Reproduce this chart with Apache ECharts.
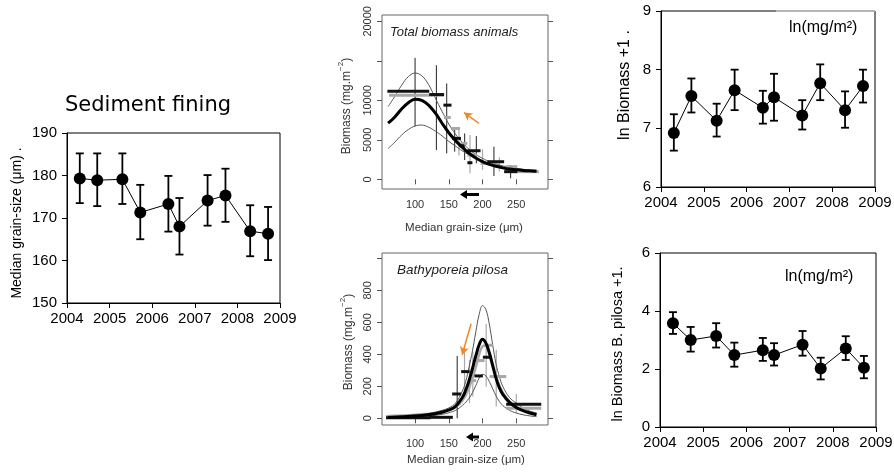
<!DOCTYPE html>
<html><head><meta charset="utf-8">
<script src="https://cdn.jsdelivr.net/npm/echarts@6/dist/echarts.min.js"></script>
<style>html,body{margin:0;padding:0;background:#fff}#c{width:894px;height:472px}</style>
</head><body><div id="c"></div>
<script>
// ---------- data ----------
const sampleDates = [2004.3, 2004.71, 2005.3, 2005.72, 2006.38, 2006.64, 2007.3, 2007.72, 2008.3, 2008.72];

const grainMedian = [179.3, 178.9, 179.1, 171.3, 173.3, 168.0, 174.1, 175.3, 166.9, 166.3];
const grainHigh   = [185.2, 185.2, 185.2, 177.8, 179.9, 174.7, 180.1, 181.6, 173.0, 172.6];
const grainLow    = [173.5, 172.8, 173.3, 165.0, 166.8, 161.4, 168.2, 169.1, 161.0, 160.1];

const lnBiomass     = [6.92, 7.55, 7.13, 7.65, 7.35, 7.53, 7.22, 7.77, 7.31, 7.72];
const lnBiomassHigh = [7.24, 7.85, 7.42, 8.00, 7.64, 7.93, 7.48, 8.09, 7.63, 8.00];
const lnBiomassLow  = [6.62, 7.27, 6.86, 7.31, 7.08, 7.13, 6.98, 7.48, 7.01, 7.44];

const lnPilosa     = [3.58, 3.00, 3.14, 2.48, 2.65, 2.48, 2.84, 2.02, 2.71, 2.04];
const lnPilosaHigh = [3.96, 3.45, 3.58, 2.91, 3.07, 2.89, 3.31, 2.39, 3.13, 2.45];
const lnPilosaLow  = [3.21, 2.60, 2.74, 2.08, 2.28, 2.12, 2.46, 1.64, 2.31, 1.68];

// Total biomass vs grain size: curves [grain, biomass]
const totalMean  = [[60,7100],[70,7900],[80,8900],[90,9700],[100,10150],[110,10000],[120,9400],[130,8400],[140,7100],[150,5900],[160,4900],[170,4050],[180,3300],[190,2700],[200,2250],[210,1900],[220,1650],[230,1450],[240,1300],[250,1200],[260,1120],[270,1070],[280,1030]];
const totalUpper = [[60,9200],[70,10500],[80,11900],[90,13000],[100,13450],[110,13100],[120,12000],[130,10300],[140,8600],[150,7000],[160,5700],[170,4650],[180,3800],[190,3150],[200,2650],[210,2250],[220,1950],[230,1700],[240,1500],[250,1380],[260,1270],[270,1200],[280,1150]];
const totalLower = [[60,3900],[70,4700],[80,5600],[90,6300],[100,6750],[110,6870],[120,6600],[130,6100],[140,5500],[150,4800],[160,4200],[170,3600],[180,3100],[190,2650],[200,2300],[210,1950],[220,1700],[230,1500],[240,1350],[250,1250],[260,1170],[270,1100],[280,1050]];
// binned means [from, to, biomass]
const totalBinsBlack = [[59,121,11150],[121,143,10730],[142,154,9390],[155,168,5180],[166,172.5,4250],[177.5,197,3620],[177.5,185,2100],[207,232,2230],[232,251.5,970]];
const totalBinsGray  = [[61.5,118,10650],[118,143,10650],[143,153,7830],[154,166.5,6440],[167.5,177.5,4550],[177.5,192,3070],[197,222,2020],[234,251.5,1600],[249,283.5,970]];
// error ranges [grain, high, low]
const totalErrBlack = [[100,15370,6700],[131.6,14440,3700],[146.9,12130,3280],[158.7,6230,3500],[173.5,5810,2440],[190.8,5470,2020],[216.9,4130,420],[241.6,1810,130]];
const totalErrGray  = [[165,6500,3000],[181.4,5600,760],[200,3800,1200],[225,2800,1000]];

// Bathyporeia pilosa vs grain size
const pilosaUpper = [[60,10],[80,15],[100,21],[120,30],[140,50],[150,65],[160,95],[170,170],[175,230],[180,320],[185,420],[190,540],[195,650],[200,705],[205,680],[210,590],[215,460],[220,340],[225,260],[230,200],[240,130],[250,95],[260,65],[270,45],[280,32]];
const pilosaMean  = [[60,5],[80,10],[100,15],[120,22],[140,38],[150,52],[160,75],[170,130],[175,175],[180,235],[185,310],[190,390],[195,460],[200,495],[205,470],[210,410],[215,330],[220,250],[225,190],[230,150],[240,100],[250,68],[260,48],[270,33],[280,22]];
const pilosaLower = [[60,2],[80,5],[100,8],[120,14],[140,25],[150,35],[160,50],[170,80],[180,125],[185,160],[190,205],[195,250],[200,275],[205,265],[210,230],[215,185],[220,140],[225,105],[230,80],[240,50],[250,33],[260,22],[270,15],[280,10]];
const pilosaGrayFit = [[60,14],[100,22],[140,40],[160,70],[170,110],[180,190],[190,320],[195,400],[200,450],[205,455],[210,410],[215,340],[220,260],[230,160],[240,105],[250,72],[260,50],[280,28]];
const pilosaBinsBlack = [[57,123,4],[121,156,6],[155,168.3,152],[168.3,180.7,292],[188,200.5,265],[200.5,212.9,382],[235,287,88]];
const pilosaBinsGray  = [[57,121,11],[178.2,190.6,236],[190.6,203,361],[203,215.3,457],[210.4,235.1,261],[235,287,63]];
const pilosaErrBlack = [[162.4,390,0]];
const pilosaErrGray  = [[173.3,453,136],[180.7,366,94],[185.6,418,136],[205.4,590,198],[220.3,428,73],[250,152,31]];

// axis ticks
const totalTicks = [0,5000,10000,15000,20000];
const totalTickLabels = [0,5000,10000,20000];
const pilosaTicks = [0,200,400,600,800,1000];
const pilosaTickLabels = [0,200,400,600,800];
const grainTicks = [100,150,200,250];

// ---------- helpers ----------
const SANS = "'Liberation Sans', Arial, sans-serif";
function errRender(color, width, cap) {
  return function (params, api) {
    const x = api.value(0);
    const a = api.coord([x, api.value(1)]);
    const b = api.coord([x, api.value(2)]);
    const st = {stroke: color, lineWidth: width};
    const ch = [{type: 'line', shape: {x1: a[0], y1: a[1], x2: b[0], y2: b[1]}, style: st}];
    if (cap) {
      ch.push({type: 'line', shape: {x1: a[0]-cap, y1: a[1], x2: a[0]+cap, y2: a[1]}, style: st});
      ch.push({type: 'line', shape: {x1: b[0]-cap, y1: b[1], x2: b[0]+cap, y2: b[1]}, style: st});
    }
    return {type: 'group', children: ch};
  };
}
function binRender(color, width) {
  return function (params, api) {
    const y = api.value(2);
    const a = api.coord([api.value(0), y]);
    const b = api.coord([api.value(1), y]);
    return {type: 'line', shape: {x1: a[0], y1: a[1], x2: b[0], y2: b[1]}, style: {stroke: color, lineWidth: width}};
  };
}
function errSeries(xi, yi, lows, highs) {
  return {type: 'custom', xAxisIndex: xi, yAxisIndex: yi, renderItem: errRender('#000', 1.8, 4),
    encode: {x: 0, y: [1, 2]}, data: sampleDates.map((d, i) => [d, lows[i], highs[i]]), z: 3};
}
function ptSeries(xi, yi, vals) {
  return {type: 'line', xAxisIndex: xi, yAxisIndex: yi, data: sampleDates.map((d, i) => [d, vals[i]]),
    symbol: 'circle', symbolSize: 12, showSymbol: true, itemStyle: {color: '#000'},
    lineStyle: {color: '#000', width: 1}, z: 4};
}
function curve(xi, yi, data, color, width, z) {
  return {type: 'line', xAxisIndex: xi, yAxisIndex: yi, data: data, smooth: 0.4, showSymbol: false,
    symbol: 'none', lineStyle: {color: color, width: width}, z: z || 2};
}
function bins(xi, yi, data, color, width, z) {
  return {type: 'custom', xAxisIndex: xi, yAxisIndex: yi, renderItem: binRender(color, width),
    encode: {x: [0, 1], y: 2}, data: data, z: z || 3};
}
function errs(xi, yi, data, color, width, z) {
  return {type: 'custom', xAxisIndex: xi, yAxisIndex: yi, renderItem: errRender(color, width, 0),
    encode: {x: 0, y: [1, 2]}, data: data, z: z || 2};
}
const excelX = (gi) => ({gridIndex: gi, type: 'value', min: 2004, max: 2009, interval: 1,
  axisLine: {show: true, lineStyle: {color: '#000', width: 1}},
  axisTick: {show: true, length: 5, lineStyle: {color: '#000'}},
  axisLabel: {color: '#000', fontSize: 15, fontFamily: SANS, margin: 8, showMinLabel: true, showMaxLabel: true, formatter: v => String(v)},
  splitLine: {show: false}});
const excelY = (gi, mn, mx, iv) => ({gridIndex: gi, type: 'value', min: mn, max: mx, interval: iv,
  axisLine: {show: true, lineStyle: {color: '#000', width: 1}},
  axisTick: {show: true, length: 5, lineStyle: {color: '#000'}},
  axisLabel: {color: '#000', fontSize: 15, fontFamily: SANS, margin: 10, showMinLabel: true, showMaxLabel: true, formatter: v => String(v)},
  splitLine: {show: false}});
const rX = (gi, margin) => ({gridIndex: gi, type: 'value', min: 51, max: 297,
  axisLine: {show: false},
  axisTick: {show: true, length: 5, customValues: grainTicks, lineStyle: {color: '#555'}},
  axisLabel: {color: '#333', fontSize: 11, fontFamily: SANS, margin: margin, customValues: grainTicks, formatter: v => String(v)},
  splitLine: {show: false}});
const rY = (gi, mn, mx, ticks, labels) => ({gridIndex: gi, type: 'value', min: mn, max: mx,
  axisLine: {show: false},
  axisTick: {show: true, length: 5, customValues: ticks, lineStyle: {color: '#555'}},
  axisLabel: {color: '#333', fontSize: 11, fontFamily: SANS, margin: 9, rotate: 90, customValues: labels, formatter: v => String(v)},
  splitLine: {show: false}});
const rYRight = (gi, mn, mx, ticks) => ({gridIndex: gi, type: 'value', position: 'right', min: mn, max: mx,
  axisLine: {show: false},
  axisTick: {show: true, length: 5, customValues: ticks, lineStyle: {color: '#555'}},
  axisLabel: {show: false}, splitLine: {show: false}});

const orangeArrow = (from, to) => ({silent: true, symbol: ['none', 'arrow'], symbolSize: [7, 8],
  lineStyle: {color: '#f0882a', width: 1.5, type: 'solid'}, label: {show: false},
  emphasis: {disabled: true}, data: [[{coord: from}, {coord: to}]]});

const gridBase = {show: true, borderColor: '#000', borderWidth: 1, backgroundColor: 'transparent', containLabel: false, outerBoundsMode: 'none'};

const option = {
  animation: false,
  textStyle: {fontFamily: SANS},
  grid: [
    Object.assign({}, gridBase, {left: 67, top: 133, width: 213, height: 170}),
    Object.assign({}, gridBase, {left: 382, top: 15, width: 166, height: 174, borderColor: '#666'}),
    Object.assign({}, gridBase, {left: 382, top: 253, width: 166, height: 172, borderColor: '#666'}),
    Object.assign({}, gridBase, {left: 661, top: 11, width: 214, height: 176}),
    Object.assign({}, gridBase, {left: 660, top: 253, width: 216, height: 174})
  ],
  xAxis: [excelX(0), rX(1, 10), rX(2, 13), excelX(3), excelX(4)],
  yAxis: [
    excelY(0, 150, 190, 10),
    rY(1, -1225, 20800, totalTicks, totalTickLabels),
    rYRight(1, -1225, 20800, totalTicks),
    rY(2, -42, 1034, pilosaTicks, pilosaTickLabels),
    rYRight(2, -42, 1034, pilosaTicks),
    excelY(3, 6, 9, 1),
    excelY(4, 0, 6, 2)
  ],
  series: [
    errSeries(0, 0, grainLow, grainHigh),
    ptSeries(0, 0, grainMedian),
    // total biomass
    errs(1, 1, totalErrGray, '#aaa', 1.2, 1),
    errs(1, 1, totalErrBlack, '#222', 1, 2),
    curve(1, 1, totalUpper, '#555', 1, 2),
    curve(1, 1, totalLower, '#555', 1, 2),
    bins(1, 1, totalBinsGray, '#a8a8a8', 3, 3),
    bins(1, 1, totalBinsBlack, '#111', 3, 4),
    Object.assign(curve(1, 1, totalMean, '#000', 3, 5), {markLine: orangeArrow([194.7, 7070], [172.5, 8460])}),
    // pilosa
    errs(2, 3, pilosaErrGray, '#aaa', 1.2, 1),
    errs(2, 3, pilosaErrBlack, '#222', 1, 2),
    curve(2, 3, pilosaGrayFit, '#aaa', 2.5, 2),
    curve(2, 3, pilosaUpper, '#555', 1, 2),
    curve(2, 3, pilosaLower, '#555', 1, 2),
    bins(2, 3, pilosaBinsGray, '#a8a8a8', 3, 3),
    bins(2, 3, pilosaBinsBlack, '#111', 3, 4),
    Object.assign(curve(2, 3, pilosaMean, '#000', 3, 5), {markLine: orangeArrow([183, 591], [169.8, 397])}),
    // right panels
    errSeries(3, 5, lnBiomassLow, lnBiomassHigh),
    ptSeries(3, 5, lnBiomass),
    errSeries(4, 6, lnPilosaLow, lnPilosaHigh),
    ptSeries(4, 6, lnPilosa)
  ],
  graphic: [
    {type: 'text', x: 65, y: 106, z: 100, style: {text: 'Sediment fining', fontFamily: "'DejaVu Sans', Verdana, sans-serif", fontSize: 21, fill: '#000', align: 'left', verticalAlign: 'middle'}},
    {type: 'text', x: 17, y: 223, rotation: Math.PI / 2, z: 100, style: {text: 'Median grain-size (\u03bcm) .', fontFamily: SANS, fontSize: 14, fill: '#000', align: 'center', verticalAlign: 'middle'}},
    {type: 'text', x: 625, y: 85, rotation: Math.PI / 2, z: 100, style: {text: 'ln Biomass +1 .', fontFamily: SANS, fontSize: 16, fill: '#000', align: 'center', verticalAlign: 'middle'}},
    {type: 'text', x: 618, y: 344, rotation: Math.PI / 2, z: 100, style: {text: 'ln Biomass B. pilosa +1.', fontFamily: SANS, fontSize: 14.5, fill: '#000', align: 'center', verticalAlign: 'middle'}},
    {type: 'line', z: 100, shape: {x1: 776, y1: 11, x2: 875, y2: 11}, style: {stroke: '#c8c8c8', lineWidth: 1.5}},
    {type: 'text', x: 789, y: 28, z: 100, style: {text: 'ln(mg/m\u00b2)', fontFamily: SANS, fontSize: 16, fill: '#000', align: 'left', verticalAlign: 'middle'}},
    {type: 'text', x: 785, y: 277, z: 100, style: {text: 'ln(mg/m\u00b2)', fontFamily: SANS, fontSize: 16, fill: '#000', align: 'left', verticalAlign: 'middle'}},
    // middle panel texts
    {type: 'text', x: 390, y: 32, z: 100, style: {text: 'Total biomass animals', fontFamily: SANS, fontStyle: 'italic', fontSize: 13, fill: '#222', align: 'left', verticalAlign: 'middle'}},
    {type: 'text', x: 397, y: 270, z: 100, style: {text: 'Bathyporeia pilosa', fontFamily: SANS, fontStyle: 'italic', fontSize: 13.5, fill: '#222', align: 'left', verticalAlign: 'middle'}},
    {type: 'text', x: 464, y: 228, z: 100, style: {text: 'Median grain-size (\u03bcm)', fontFamily: SANS, fontSize: 11.5, fill: '#333', align: 'center', verticalAlign: 'middle'}},
    {type: 'text', x: 466, y: 460, z: 100, style: {text: 'Median grain-size (\u03bcm)', fontFamily: SANS, fontSize: 11.5, fill: '#333', align: 'center', verticalAlign: 'middle'}},
    {type: 'text', x: 345, y: 106, rotation: Math.PI / 2, z: 100, style: {text: '{a|Biomass (mg.m}{s|\u22122}{a|)}', align: 'center', verticalAlign: 'middle', fill: '#333',
      rich: {a: {fontFamily: SANS, fontSize: 12, fill: '#333', lineHeight: 16, verticalAlign: 'bottom'}, s: {fontFamily: SANS, fontSize: 8, fill: '#333', lineHeight: 16, verticalAlign: 'top'}}}},
    {type: 'text', x: 347, y: 342, rotation: Math.PI / 2, z: 100, style: {text: '{a|Biomass (mg.m}{s|\u22122}{a|)}', align: 'center', verticalAlign: 'middle', fill: '#333',
      rich: {a: {fontFamily: SANS, fontSize: 12, fill: '#333', lineHeight: 16, verticalAlign: 'bottom'}, s: {fontFamily: SANS, fontSize: 8, fill: '#333', lineHeight: 16, verticalAlign: 'top'}}}},
    // black arrows below middle axes
    {type: 'line', z: 100, shape: {x1: 479, y1: 194.5, x2: 466, y2: 194.5}, style: {stroke: '#000', lineWidth: 3}},
    {type: 'polygon', z: 100, shape: {points: [[460, 194.5], [467, 190], [467, 199]]}, style: {fill: '#000'}},
    {type: 'line', z: 100, shape: {x1: 479, y1: 437, x2: 472, y2: 437}, style: {stroke: '#000', lineWidth: 3}},
    {type: 'polygon', z: 100, shape: {points: [[466, 437], [473, 432.5], [473, 441.5]]}, style: {fill: '#000'}}
  ]
};
const chart = echarts.init(document.getElementById('c'), null, {renderer: 'canvas'});
chart.setOption(option);
</script></body></html>
